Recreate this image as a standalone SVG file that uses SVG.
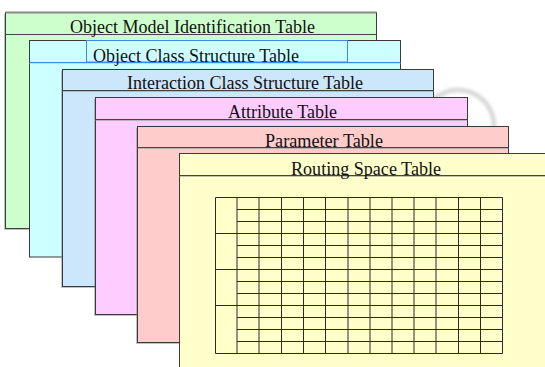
<svg xmlns="http://www.w3.org/2000/svg" width="545" height="367" viewBox="0 0 545 367">
<defs>
<filter id="blur" x="-20%" y="-20%" width="140%" height="140%"><feGaussianBlur stdDeviation="1.8"/></filter>
<style>
.sheet{stroke:#3a3a3a;stroke-width:1}
.shadow{fill:#777;opacity:0.45}
.hdr{stroke:#444;stroke-width:1}
.hdr2{stroke:#999;stroke-width:1;opacity:0.6}
.title{font-family:"Liberation Serif","Times New Roman",serif;font-size:18px;fill:#111}
.grid line{stroke:#2a2a2a;stroke-width:1}
</style>
</defs>
<rect width="545" height="367" fill="#ffffff"/>
<circle cx="458" cy="126" r="36" fill="none" stroke="#dadada" stroke-width="5" filter="url(#blur)"/>

<g id="object-model-identification-table">
<rect class="shadow" x="4" y="14" width="371" height="216"/>
<rect class="sheet" x="5.5" y="12.5" width="371" height="216" fill="#ccffcc" stroke="#555"/>
<line x1="5.5" y1="12.5" x2="376.5" y2="12.5" stroke="#888" stroke-width="2"/>
<line class="hdr" x1="5.5" y1="34.5" x2="376.5" y2="34.5"/>
<text class="title" x="70" y="33" textLength="245" lengthAdjust="spacingAndGlyphs">Object Model Identification Table</text>
</g>

<g id="object-class-structure-table">
<rect class="sheet" x="29.5" y="40.5" width="371" height="216.5" fill="#ccffff" stroke="#3c86f0"/>
<rect x="86.5" y="40.5" width="261" height="21.5" fill="none" stroke="#3c86f0"/>
<line x1="29.5" y1="62.5" x2="400.5" y2="62.5" stroke="#3c86f0"/>
<line x1="29.5" y1="63.5" x2="400.5" y2="63.5" stroke="#9cc6f8" opacity="0.5"/>
<text class="title" x="93" y="61.5" textLength="206" lengthAdjust="spacingAndGlyphs">Object Class Structure Table</text>
</g>

<g id="interaction-class-structure-table">
<rect class="shadow" x="61" y="71" width="371" height="217"/>
<rect class="sheet" x="62.5" y="69.5" width="371" height="217" fill="#cce6fc"/>
<line class="hdr" x1="62.5" y1="90.5" x2="433.5" y2="90.5"/>
<line class="hdr2" x1="62.5" y1="91.5" x2="433.5" y2="91.5"/>
<text class="title" x="127" y="89" textLength="236" lengthAdjust="spacingAndGlyphs">Interaction Class Structure Table</text>
</g>

<g id="attribute-table">
<rect class="shadow" x="94" y="99" width="372" height="217"/>
<rect class="sheet" x="95.5" y="97.5" width="372" height="217" fill="#ffccff"/>
<line class="hdr" x1="95.5" y1="119.5" x2="467.5" y2="119.5"/>
<line class="hdr2" x1="95.5" y1="120.5" x2="467.5" y2="120.5"/>
<text class="title" x="228" y="118" textLength="109" lengthAdjust="spacingAndGlyphs">Attribute Table</text>
</g>

<g id="parameter-table">
<rect class="shadow" x="136" y="128" width="371" height="216"/>
<rect class="sheet" x="137.5" y="126.5" width="371" height="216" fill="#ffcccc"/>
<line class="hdr" x1="137.5" y1="147.5" x2="508.5" y2="147.5"/>
<line class="hdr2" x1="137.5" y1="148.5" x2="508.5" y2="148.5"/>
<text class="title" x="265" y="146.5" textLength="118" lengthAdjust="spacingAndGlyphs">Parameter Table</text>
</g>

<g id="routing-space-table">
<rect class="sheet" x="179.5" y="153.5" width="380" height="220" fill="#ffffcc"/>
<line class="hdr" x1="179.5" y1="175.5" x2="545" y2="175.5"/>
<line class="hdr2" x1="179.5" y1="176.5" x2="545" y2="176.5"/>
<text class="title" x="291" y="175" textLength="150" lengthAdjust="spacingAndGlyphs">Routing Space Table</text>
<g class="grid">
<line x1="215.5" y1="197.5" x2="215.5" y2="353.5"/>
<line x1="237" y1="197.5" x2="237" y2="353.5"/>
<line x1="259" y1="197.5" x2="259" y2="353.5"/>
<line x1="281.5" y1="197.5" x2="281.5" y2="353.5"/>
<line x1="303.5" y1="197.5" x2="303.5" y2="353.5"/>
<line x1="325.5" y1="197.5" x2="325.5" y2="353.5"/>
<line x1="348" y1="197.5" x2="348" y2="353.5"/>
<line x1="370" y1="197.5" x2="370" y2="353.5"/>
<line x1="392" y1="197.5" x2="392" y2="353.5"/>
<line x1="414" y1="197.5" x2="414" y2="353.5"/>
<line x1="436" y1="197.5" x2="436" y2="353.5"/>
<line x1="458.5" y1="197.5" x2="458.5" y2="353.5"/>
<line x1="480.5" y1="197.5" x2="480.5" y2="353.5"/>
<line x1="502.5" y1="197.5" x2="502.5" y2="353.5"/>
<line x1="215.5" y1="197.5" x2="502.5" y2="197.5"/>
<line x1="237" y1="209.5" x2="502.5" y2="209.5"/>
<line x1="237" y1="221.5" x2="502.5" y2="221.5"/>
<line x1="215.5" y1="233.5" x2="502.5" y2="233.5"/>
<line x1="237" y1="245.5" x2="502.5" y2="245.5"/>
<line x1="237" y1="257.5" x2="502.5" y2="257.5"/>
<line x1="215.5" y1="269.5" x2="502.5" y2="269.5"/>
<line x1="237" y1="281.5" x2="502.5" y2="281.5"/>
<line x1="237" y1="293.5" x2="502.5" y2="293.5"/>
<line x1="215.5" y1="305.5" x2="502.5" y2="305.5"/>
<line x1="237" y1="317.5" x2="502.5" y2="317.5"/>
<line x1="237" y1="329.5" x2="502.5" y2="329.5"/>
<line x1="237" y1="341.5" x2="502.5" y2="341.5"/>
<line x1="215.5" y1="353.5" x2="502.5" y2="353.5"/>
</g>
</g>
</svg>
